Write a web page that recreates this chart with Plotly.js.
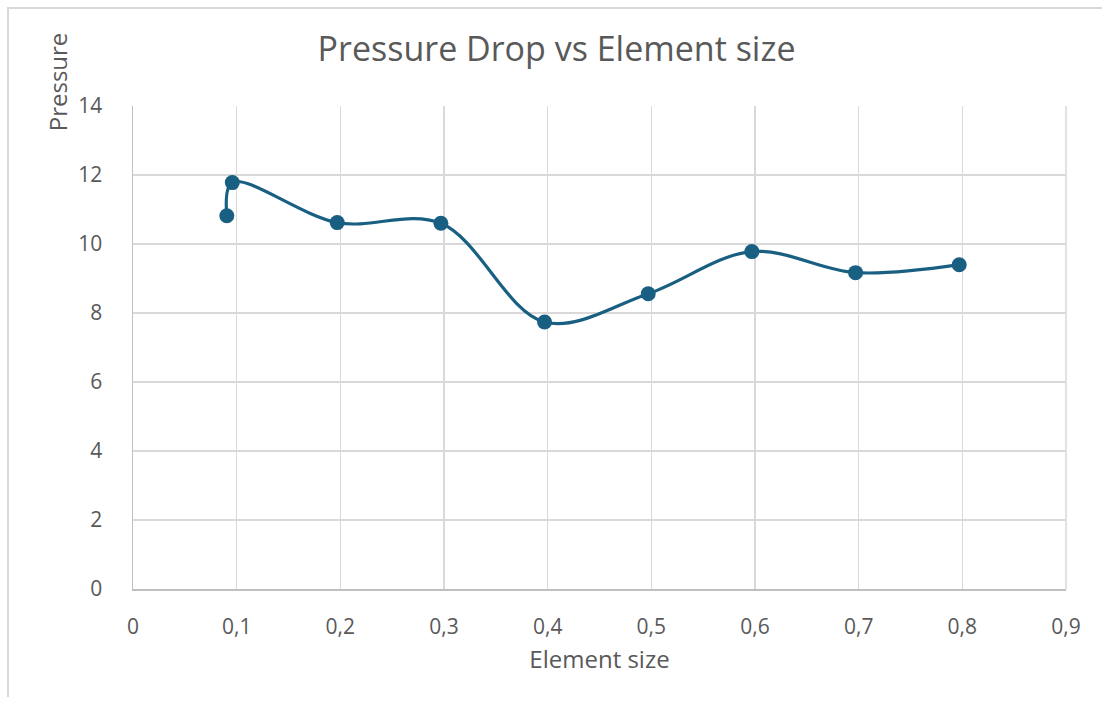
<!DOCTYPE html>
<html>
<head>
<meta charset="utf-8">
<script src="https://cdn.plot.ly/plotly-3.0.1.min.js"></script>
<style>
  html, body { margin: 0; padding: 0; background: #ffffff; }
  #frame { position: absolute; left: 0; top: 0; width: 1102px; height: 705px; }
  #border { position: absolute; left: 7px; top: 7px; width: 1095px; height: 688px;
            border-left: 2px solid #d9d9d9; border-top: 2px solid #d9d9d9; pointer-events: none; }
  #chart { position: absolute; left: 0; top: 0; width: 1102px; height: 705px; }
</style>
</head>
<body>
<div id="frame">
  <div id="chart"></div>
  <div id="border"></div>
</div>
<script>
// Element size (x) and pressure drop (y) for each mesh run
const elementSize = [0.0905, 0.0958, 0.197, 0.297, 0.397, 0.497, 0.597, 0.697, 0.797];
const pressure    = [10.82, 11.78, 10.62, 10.6, 7.74, 8.56, 9.78, 9.17, 9.4];

const xTicks = [0, 0.1, 0.2, 0.3, 0.4, 0.5, 0.6, 0.7, 0.8, 0.9];
const yTicks = [0, 2, 4, 6, 8, 10, 12, 14];

const lineColor = '#195f82';
const textColor = '#595959';
const gridColor = '#d9d9d9';
const fontFamily = '"Open Sans", "Noto Sans", sans-serif';

const trace = {
  x: elementSize,
  y: pressure,
  type: 'scatter',
  mode: 'lines+markers',
  line: { color: lineColor, width: 3.2, shape: 'spline', smoothing: 1 },
  marker: { color: lineColor, size: 15 },
  hoverinfo: 'x+y'
};

const layout = {
  width: 1102,
  height: 705,
  separators: ',.',
  paper_bgcolor: '#ffffff',
  plot_bgcolor: '#ffffff',
  showlegend: false,
  margin: { l: 133, r: 36, t: 106, b: 116 },
  font: { family: fontFamily, color: textColor, size: 21 },
  title: {
    text: 'Pressure Drop vs Element size',
    font: { family: fontFamily, size: 34, color: textColor },
    x: 0.505, xref: 'container', xanchor: 'center',
    y: 0.93, yref: 'container', yanchor: 'middle'
  },
  xaxis: {
    range: [0, 0.9],
    tickvals: xTicks,
    showgrid: true,
    gridcolor: gridColor,
    gridwidth: 1.5,
    zeroline: false,
    showline: true,
    linecolor: '#bfbfbf',
    linewidth: 1.5,
    ticks: '',
    ticklabelstandoff: 18,
    tickfont: { size: 21, color: textColor },
    title: { text: 'Element size', font: { size: 24, color: textColor }, standoff: 12 }
  },
  yaxis: {
    range: [0, 14],
    tickvals: yTicks,
    showgrid: true,
    gridcolor: gridColor,
    gridwidth: 1.5,
    zeroline: false,
    showline: true,
    linecolor: '#bfbfbf',
    linewidth: 1.5,
    ticks: '',
    ticklabelstandoff: 25,
    tickfont: { size: 21, color: textColor }
  },
  shapes: [{
    type: 'line', xref: 'paper', yref: 'paper',
    x0: 1, x1: 1, y0: 0, y1: 1,
    line: { color: gridColor, width: 1.5 }
  }],
  annotations: [{
    text: 'Pressure',
    textangle: -90,
    xref: 'paper', yref: 'paper',
    x: -0.081, y: 1.05,
    xanchor: 'center', yanchor: 'middle',
    showarrow: false,
    font: { size: 24, color: textColor }
  }]
};

Plotly.newPlot('chart', [trace], layout, { displayModeBar: false, staticPlot: true });
</script>
</body>
</html>
